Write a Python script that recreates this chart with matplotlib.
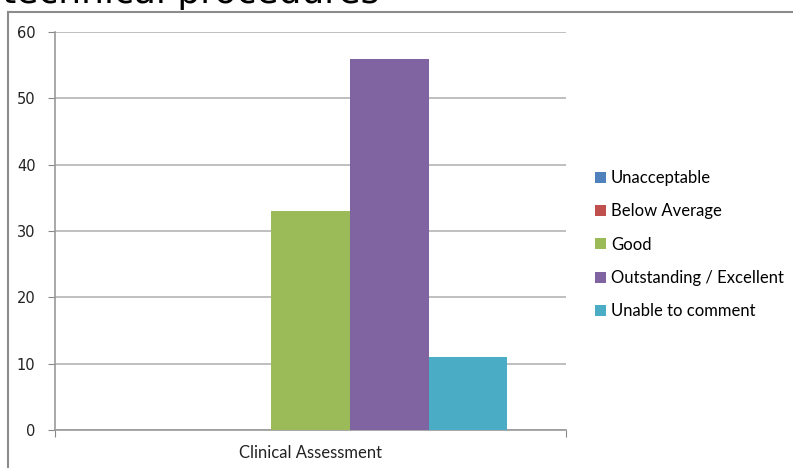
import numpy as np
import matplotlib.pyplot as plt
from matplotlib.lines import Line2D

categories = ['Clinical Assessment']
series = ['Unacceptable', 'Below Average', 'Good', 'Outstanding / Excellent', 'Unable to comment']
values = [0, 0, 33, 56, 11]
colors = ['#4F81BD', '#C0504D', '#9BBB59', '#8064A2', '#4BACC6']
yticks = [0, 10, 20, 30, 40, 50, 60]

fig = plt.figure(figsize=(7.93, 4.68), dpi=100)
ax = fig.add_axes([55/793, 1 - 430/468, 511/793, 398/468])

# chart frame (cut off on right/bottom)
fig.add_artist(Line2D([8/793, 1], [1 - 12/468, 1 - 12/468], transform=fig.transFigure,
                      color='#8c8c8c', lw=1.5))
fig.add_artist(Line2D([8/793, 8/793], [0, 1 - 12/468], transform=fig.transFigure,
                      color='#8c8c8c', lw=1.5))

# title is cropped at the top in the original
fig.text(0.002, 1 - 3.5/468, 'technical procedures', fontsize=26, va='baseline',
         family='DejaVu Sans')

x = np.arange(len(categories))
w = 0.154
for i, (name, v, c) in enumerate(zip(series, values, colors)):
    ax.bar(x + (i - 2) * w, [v], w, color=c, label=name, edgecolor='none', zorder=3)

ax.set_xlim(-0.5, 0.5)
ax.set_ylim(0, 60)
ax.set_yticks(yticks)
ax.set_xticks([-0.5, 0.5], minor=False)
ax.set_xticklabels(['', ''])
ax.set_xticks([0], minor=True)
ax.set_xticklabels(categories, minor=True, family='Lato', fontsize=12)
ax.tick_params(axis='x', which='minor', length=0, pad=11, colors='#222222')
ax.tick_params(axis='x', which='major', length=5, color='#888888')
ax.tick_params(axis='y', length=5, color='#888888', pad=9, labelsize=10.5, labelcolor='#222222')
ax.yaxis.grid(True, color='#b4b4b4', lw=1.2, zorder=0)
for s in ['top', 'right']:
    ax.spines[s].set_visible(False)
for s in ['left', 'bottom']:
    ax.spines[s].set_color('#999999')
    ax.spines[s].set_linewidth(1.2)

leg = fig.legend(loc='upper left', bbox_to_anchor=(595/793, 1 - 170/468), frameon=False,
                 prop={'family': 'Lato', 'size': 12}, handlelength=0.65, handleheight=0.65,
                 handletextpad=0.3, labelspacing=1.04, borderaxespad=0, borderpad=0)

fig.savefig('out.png', dpi=100)
